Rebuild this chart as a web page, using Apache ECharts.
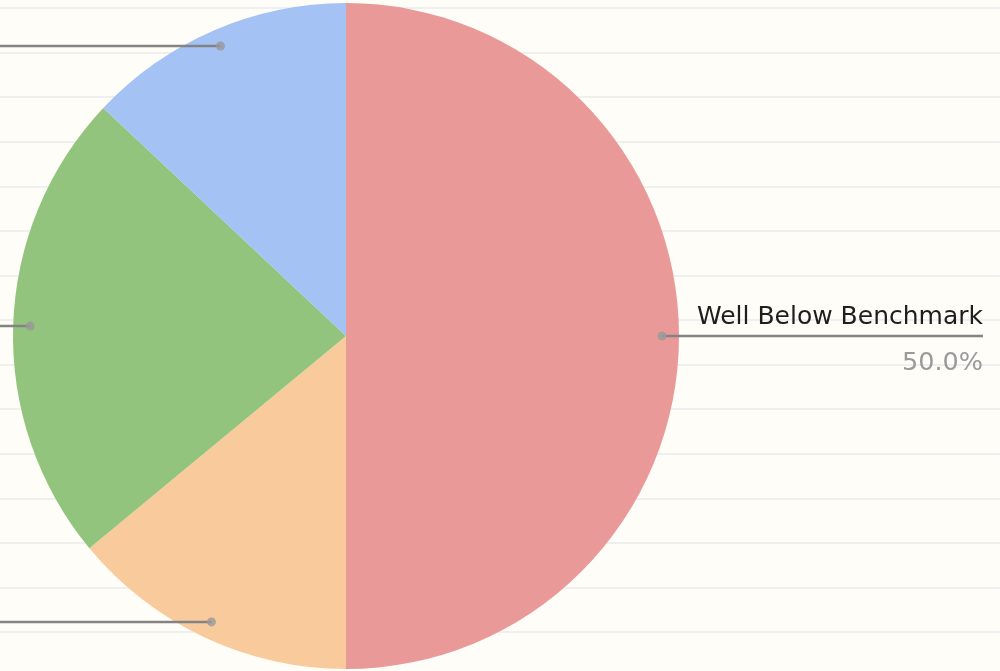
<!DOCTYPE html>
<html>
<head>
<meta charset="utf-8">
<script src="https://cdn.jsdelivr.net/npm/echarts@6/dist/echarts.min.js"></script>
<style>
    html,body{margin:0;padding:0;background:#fffdf7;overflow:hidden;}
    /* 图比窗口宽，左侧标签落在可视区域外 */
    #benchmarkPie{width:1400px;height:671px;margin-left:-400px;}
</style>
</head>
<body>
<div id="benchmarkPie"></div>
<script>
// 各类占比
const categories = ["Well Below Benchmark", "Below Benchmark", "At Benchmark", "Above Benchmark"];
const shares = [50, 14, 23, 13];
const sliceColors = ["#ea9999", "#f9cb9c", "#93c47d", "#a4c2f4"];
const ruleSteps = 14; // 背景横线的段数

let chart = echarts.init(document.getElementById("benchmarkPie"));

// 每块扇形中点的角度(百分比)，用于画标签线起点的小圆点
const total = shares.reduce((a, b) => a + b, 0);
let acc = 0;
const dotData = shares.map(v => {
    let mid = acc + v / 2;
    acc += v;
    return [1, mid / total * 100];
});
const pieData = categories.map((name, i) => ({name: name, value: shares[i]}));
const pieCenter = [746, 336];

let option = {
    backgroundColor: "#fffdf7",
    animation: false,
    // 笔记本样式的横线
    grid: {left: 0, right: 0, top: 8, bottom: 39},
    xAxis: {type: "value", show: false},
    yAxis: {
        type: "value", min: 0, max: ruleSteps, interval: 1,
        axisLine: {show: false}, axisTick: {show: false}, axisLabel: {show: false},
        splitLine: {lineStyle: {color: "#efefef", width: 2}}
    },
    polar: {center: pieCenter, radius: 316},
    angleAxis: {type: "value", min: 0, max: 100, startAngle: 90, show: false},
    radiusAxis: {type: "value", min: 0, max: 1, show: false},
    series: [
        {
            type: "pie",
            center: pieCenter,
            radius: 333,
            silent: true,
            z: 2,
            label: {show: false},
            labelLine: {show: false},
            itemStyle: {
                color: p => sliceColors[p.dataIndex]
            },
            data: pieData
        },
        {
            // 透明的内圈，只负责标签
            type: "pie",
            center: pieCenter,
            radius: 316,
            silent: true,
            z: 3,
            avoidLabelOverlap: false,
            itemStyle: {color: "rgba(0,0,0,0)"},
            label: {
                position: "outside",
                alignTo: "edge",
                edgeDistance: 17,
                distanceToLabelLine: 5,
                overflow: "none",
                formatter: p => "{name|" + p.name + "}\n{pct|" + p.percent.toFixed(1) + "%}",
                rich: {
                    name: {fontFamily: "DejaVu Sans", fontSize: 25, color: "#1e1e1e", lineHeight: 54, align: "right"},
                    pct: {fontFamily: "DejaVu Sans", fontSize: 25.5, color: "#9a9a9a", lineHeight: 38, align: "right"}
                }
            },
            labelLine: {
                show: true,
                length: 0,
                length2: 33,
                lineStyle: {color: "#838383", width: 2.4}
            },
            labelLayout: params => {
                let isLeft = params.labelRect.x < chart.getWidth() / 2;
                let points = params.labelLinePoints;
                points[2][0] = isLeft ? params.labelRect.x : params.labelRect.x + params.labelRect.width;
                return {labelLinePoints: points};
            },
            data: pieData
        },
        {
            type: "scatter",
            coordinateSystem: "polar",
            symbolSize: 9,
            silent: true,
            z: 4,
            itemStyle: {color: "#999"},
            data: dotData
        }
    ]
};
chart.setOption(option);
</script>
</body>
</html>
